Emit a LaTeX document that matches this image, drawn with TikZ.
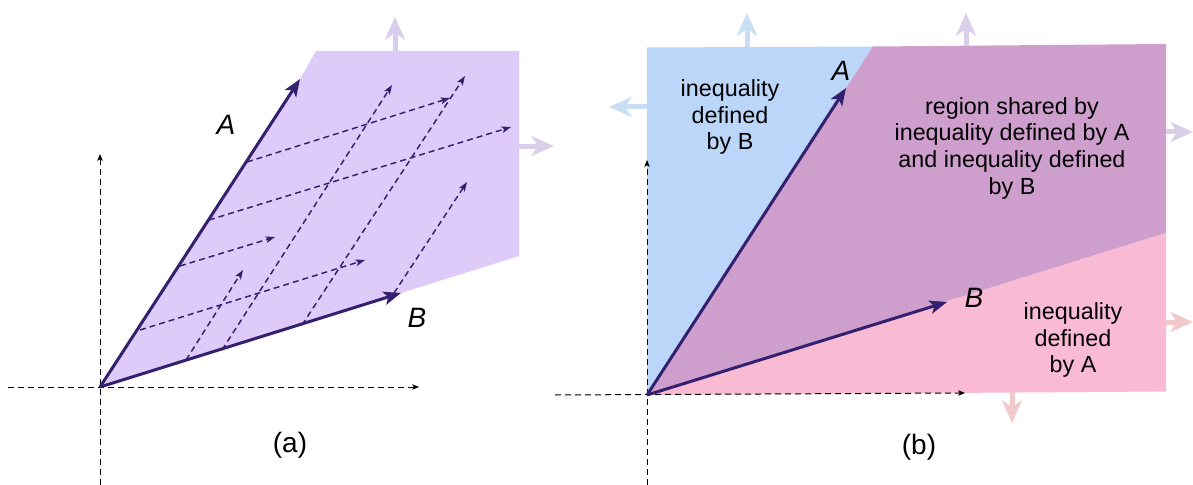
\documentclass[tikz,border=0pt]{standalone}
\usepackage{fontspec}
\setmainfont{Liberation Sans}
\usepackage{xcolor}
\usetikzlibrary{arrows.meta, positioning}

\definecolor{vecColor}{HTML}{33206F}
\definecolor{coneColor}{HTML}{DFCBFA}
\definecolor{fadeViolet}{HTML}{D9CFEA}
\definecolor{blueRegion}{HTML}{BBD6F9}
\definecolor{fadeBlue}{HTML}{C8DEF2}
\definecolor{sharedRegion}{HTML}{CE9ECD}
\definecolor{pinkRegion}{HTML}{F9BAD3}
\definecolor{fadePink}{HTML}{F2C9CB}

\begin{document}
\begin{tikzpicture}[
    x=0.75pt, y=-0.75pt,
    axis line/.style={draw=black, line width=0.75pt, dash pattern=on 4.5pt off 3pt, -{Stealth[length=5pt,width=4pt,inset=1pt]}},
    vector/.style={draw=vecColor, line width=2.25pt, -{Stealth[length=13pt,width=10pt,inset=3pt]}},
    span line/.style={draw=vecColor, line width=1.1pt, dash pattern=on 4.5pt off 3pt, -{Stealth[length=7pt,width=5pt,inset=1.5pt]}},
    grow arrow/.style={line width=3.75pt, -{Stealth[length=17pt,width=15pt,inset=5pt]}},
    vec label/.style={font=\fontsize{21}{25}\selectfont\itshape},
    region label/.style={font=\fontsize{17.5}{20}\selectfont, align=center},
    caption/.style={font=\fontsize{21}{25}\selectfont}
]
\useasboundingbox (0,0) rectangle (1193,485);

% (a) cone spanned by A and B
\coordinate (oa) at (100,387);
\coordinate (tipAa) at (300,79);
\coordinate (tipBa) at (401,293);

\fill[coneColor] (oa) -- (tipAa) -- (316,51) -- (519,51) -- (519,256) -- (tipBa) -- cycle;
\draw[grow arrow, fadeViolet] (395,51) -- (395,17);
\draw[grow arrow, fadeViolet] (519,146) -- (554,146);

\draw[axis line] (8,387) -- (419,387);
\draw[axis line] (100,485) -- (100,154);

\foreach \sx/\sy/\ex/\ey in {140/330/365/260, 180/266/275/237, 209/220/511/127, 247/162/450/98,
                             186/360/243/270, 222/350/392/85, 302/325/465/76, 394/293/467/182}
    \draw[span line] (\sx,\sy) -- (\ex,\ey);

\draw[vector] (oa) -- (tipAa);
\draw[vector] (oa) -- (tipBa);
\node[vec label] (labelAa) at (226,125) {A};
\node[vec label] (labelBa) at (417,318) {B};
\node[caption] (capA) at (290,445) {(a)};

% (b) regions of the two inequalities
\coordinate (ob) at (647,395);
\coordinate (tipAb) at (846,88);
\coordinate (tipBb) at (947,302);

\fill[blueRegion] (ob) -- (647,47.5) -- (873,46.5) -- cycle;
\fill[sharedRegion] (ob) -- (873,46.5) -- (1166,44) -- (1166,233) -- cycle;
\fill[pinkRegion] (ob) -- (1166,233) -- (1166,391.5) -- cycle;

\draw[grow arrow, fadeBlue] (747,47) -- (747,13);
\draw[grow arrow, fadeBlue] (647,107) -- (609,107);
\draw[grow arrow, fadeViolet] (966,46) -- (966,13);
\draw[grow arrow, fadeViolet] (1166,132) -- (1193,132);
\draw[grow arrow, fadePink] (1166,322) -- (1193,322);
\draw[grow arrow, fadePink] (1012,392) -- (1012,423);

\draw[axis line] (555,395) -- (965,393);
\draw[axis line] (647,485) -- (647,160);

\draw[vector] (ob) -- (tipAb);
\draw[vector] (ob) -- (tipBb);
\node[vec label] (labelAb) at (841,71) {A};
\node[vec label] (labelBb) at (974,298) {B};

\node[region label] (ineqB) at (730,117) {inequality\\defined\\by B};
\node[region label] (sharedText) at (1012,148) {region shared by\\inequality defined by A\\and inequality defined\\by B};
\node[region label] (ineqA) at (1073,340) {inequality\\defined\\by A};
\node[caption] (capB) at (919,447) {(b)};

\end{tikzpicture}
\end{document}
